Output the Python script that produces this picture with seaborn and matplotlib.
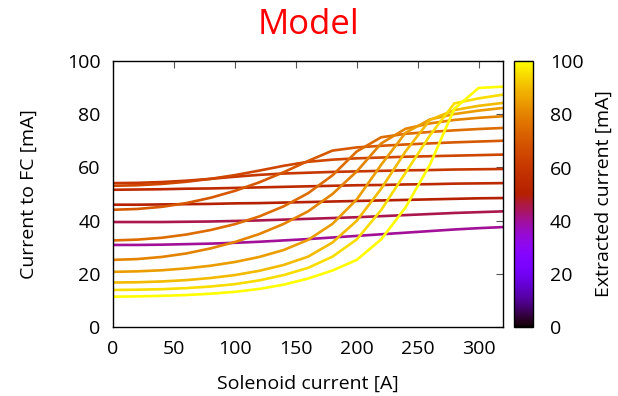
import numpy as np
import pandas as pd
import matplotlib
matplotlib.use("Agg")
import matplotlib.pyplot as plt
import seaborn as sns

# Solenoid current grid [A]
solenoid = [0, 20, 40, 60, 80, 100, 120, 140, 160, 180, 200, 220, 240, 260, 280, 300, 320]

# Extracted current of each curve [mA]
extracted = [100, 95, 90, 85, 80, 75, 70, 65, 60, 55, 50, 45, 40]

# Current reaching the Faraday cup [mA], one list per extracted current
fc_100 = [11.5, 11.6, 11.8, 12.1, 12.6, 13.3, 14.4, 16.0, 18.3, 21.3, 25.3, 33.0, 45.0, 61.0, 82.0, 89.8, 90.3]
fc_95 = [14.0, 14.1, 14.3, 14.7, 15.3, 16.2, 17.6, 19.6, 22.3, 26.5, 33.0, 44.0, 58.0, 72.0, 84.0, 85.9, 87.3]
fc_90 = [16.8, 16.9, 17.2, 17.7, 18.5, 19.6, 21.2, 23.4, 26.5, 31.8, 40.0, 52.0, 66.0, 77.8, 81.5, 83.1, 84.2]
fc_85 = [20.8, 21.0, 21.4, 22.1, 23.1, 24.5, 26.4, 29.0, 32.8, 38.8, 48.0, 61.0, 73.0, 78.0, 80.0, 81.3, 82.3]
fc_80 = [25.3, 25.6, 26.4, 27.7, 29.6, 32.0, 35.0, 38.8, 43.5, 50.0, 58.5, 69.0, 74.5, 76.5, 77.8, 78.6, 79.2]
fc_75 = [32.6, 32.9, 33.6, 34.8, 36.5, 38.7, 41.6, 45.4, 50.3, 57.0, 66.0, 71.3, 72.6, 73.3, 73.9, 74.4, 74.8]
fc_70 = [44.1, 44.4, 45.2, 46.6, 48.6, 51.2, 54.4, 58.2, 62.4, 66.3, 67.5, 68.1, 68.6, 69.0, 69.4, 69.7, 70.0]
fc_65 = [53.1, 53.3, 53.8, 54.6, 55.7, 57.1, 58.8, 60.6, 62.1, 62.9, 63.4, 63.7, 64.0, 64.2, 64.4, 64.6, 64.8]
fc_60 = [54.1, 54.2, 54.5, 55.0, 55.7, 56.5, 57.2, 57.7, 58.0, 58.3, 58.5, 58.7, 58.9, 59.0, 59.2, 59.3, 59.4]
fc_55 = [51.6, 51.7, 51.8, 52.0, 52.1, 52.3, 52.5, 52.7, 52.9, 53.1, 53.3, 53.4, 53.6, 53.7, 53.9, 54.0, 54.1]
fc_50 = [46.0, 46.0, 46.1, 46.2, 46.3, 46.5, 46.6, 46.8, 47.0, 47.2, 47.4, 47.6, 47.8, 48.0, 48.2, 48.4, 48.5]
fc_45 = [39.5, 39.5, 39.5, 39.6, 39.7, 39.9, 40.1, 40.4, 40.7, 41.0, 41.3, 41.7, 42.1, 42.5, 42.9, 43.2, 43.5]
fc_40 = [30.9, 30.9, 31.0, 31.2, 31.4, 31.7, 32.1, 32.6, 33.1, 33.7, 34.3, 34.9, 35.5, 36.1, 36.7, 37.2, 37.6]

curves = [fc_100, fc_95, fc_90, fc_85, fc_80, fc_75, fc_70,
          fc_65, fc_60, fc_55, fc_50, fc_45, fc_40]

x_ticks = [0, 50, 100, 150, 200, 250, 300]
y_ticks = [0, 20, 40, 60, 80, 100]
cb_ticks = [0, 20, 40, 60, 80, 100]

rows = []
for e, ys in zip(extracted, curves):
    for s, y in zip(solenoid, ys):
        rows.append({"solenoid": s, "fc": y, "extracted": e})
df = pd.DataFrame(rows)

sns.set_style("white")
plt.rcParams["font.family"] = ["Open Sans", "DejaVu Sans"]
plt.rcParams["text.color"] = "black"
plt.rcParams["axes.labelcolor"] = "black"

fig = plt.figure(figsize=(6.18, 3.96), dpi=100)
ax = fig.add_axes([0.183, 0.1735, 0.631, 0.673])
cax = fig.add_axes([0.832, 0.1750, 0.031, 0.670])

norm = matplotlib.colors.Normalize(0, 100)
cmap = plt.get_cmap("gnuplot")

sns.lineplot(data=df, x="solenoid", y="fc", hue="extracted", units="extracted",
             estimator=None, palette=cmap, hue_norm=norm, linewidth=1.9,
             legend=False, ax=ax, sort=True)

ax.set_xlim(0, 320)
ax.set_ylim(0, 100)
ax.set_xticks(x_ticks)
ax.set_yticks(y_ticks)
ax.tick_params(direction="in", length=5, width=0.8, color="#555555",
               top=True, right=True, labelsize=14, pad=9, labelcolor="black")
for sp in ax.spines.values():
    sp.set_color("black")
    sp.set_linewidth(1.0)
ax.set_xlabel("Solenoid current [A]", fontsize=14, labelpad=12)
ax.set_ylabel("Current to FC [mA]", fontsize=14, labelpad=21)
ax.set_title("Model", color="red", fontsize=25, pad=19)

sm = matplotlib.cm.ScalarMappable(norm=norm, cmap=cmap)
cb = fig.colorbar(sm, cax=cax)
cb.set_ticks(cb_ticks)
cb.outline.set_edgecolor("black")
cb.outline.set_linewidth(1.0)
cax.tick_params(direction="in", length=13.5, width=0.8, color="#3a2a20",
                labelsize=14, pad=12, labelcolor="black")
cb.set_label("Extracted current [mA]", fontsize=14, labelpad=8, color="black")

fig.savefig("out.png", dpi=100)
